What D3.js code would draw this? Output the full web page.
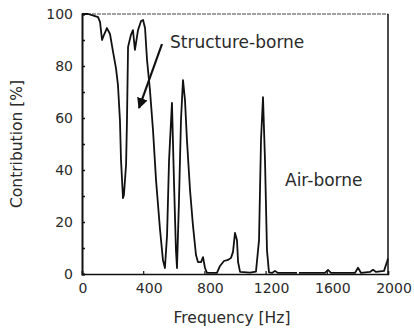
<!DOCTYPE html>
<html><head><meta charset="utf-8">
<script src="https://cdn.jsdelivr.net/npm/d3@7"></script>
<style>html,body{margin:0;padding:0;background:#fff;}svg{display:block;}</style>
</head><body>
<svg id="c" width="414" height="328"></svg>
<script>
const freq = [0,39,65,85,105,118,131,144,163,183,203,222,235,248,255,268,274,288,294,301,320,333,346,366,386,399,412,425,444,464,484,510,529,542,556,569,588,601,614,621,634,647,660,673,686,706,725,745,758,778,791,804,817,882,902,928,954,974,987,1000,1013,1020,1033,1098,1137,1157,1170,1183,1196,1209,1222,1242,1261,1281,1405,1411,1418,1588,1608,1627,1784,1804,1824,1882,1902,1922,1974,1993,2000];
const contribution = [100,100,99.6,99.2,98.8,96.9,90,92,94.6,92.3,85.4,79.2,72.7,59.2,43.8,29.2,30.4,42,59,87.3,92,93.8,86.2,93.8,97.3,97.7,94.6,82.3,70.8,55.4,36,17,5.4,2.3,15,43.8,65.8,36,9.2,2.3,28.5,59.2,74.6,67,51.5,32.3,18.8,7.3,4.6,4.6,6.5,2.3,0.4,0.4,3.1,5,5.4,6.2,8.5,15.8,13,4.6,0.8,0.5,0.9,13,51.5,68,43.8,9.2,0.6,0.4,1.2,0.4,0.4,null,0.4,0.4,1.6,0.4,0.4,2.4,0.4,0.8,1.6,0.8,1.2,4.6,6];
const xTicks = [0,400,800,1200,1600,2000];
const yTicks = [0,20,40,60,80,100];
const yMinor = [10,30,50,70,90];
const labels = ["Structure-borne", "Air-borne"];

const svg = d3.select("#c");
const x = d3.scaleLinear().domain([0,2000]).range([82,388]);
const y = d3.scaleLinear().domain([0,100]).range([274,14]);
const font = "DejaVu Sans, sans-serif";
const ink = "#2a2a2a";

// frame: top and right
svg.append("line").attr("x1",x(0)).attr("x2",x(2000)).attr("y1",y(100)).attr("y2",y(100))
  .attr("stroke","#444").attr("stroke-width",1.2).attr("stroke-dasharray","4,1");
svg.append("line").attr("x1",x(2000)).attr("x2",x(2000)).attr("y1",y(100)).attr("y2",y(0))
  .attr("stroke","#111").attr("stroke-width",1.5);

// y axis
const ya = svg.append("g").attr("transform",`translate(${x(0)},0)`)
  .call(d3.axisRight(y).tickValues(yTicks.concat(yMinor)).tickSize(3).tickFormat(""));
ya.select(".domain").attr("stroke","#111").attr("stroke-width",2);
ya.selectAll(".tick line").attr("stroke","#111").attr("stroke-width",1.5);
svg.append("g").selectAll("text").data(yTicks).join("text")
  .attr("x",73).attr("y",d=>y(d)).attr("dy","0.35em").attr("text-anchor","end")
  .attr("font-family",font).attr("font-size",14).attr("fill",ink).text(d=>d);

// x axis
const xa = svg.append("g").attr("transform",`translate(0,${y(0)})`)
  .call(d3.axisTop(x).tickValues(xTicks).tickSize(3).tickFormat(""));
xa.select(".domain").attr("stroke","#111").attr("stroke-width",1.6);
xa.selectAll(".tick line").attr("stroke","#111").attr("stroke-width",1.2);
svg.append("g").selectAll("text").data(xTicks).join("text")
  .attr("x",d=>x(d)+(d===0?1:6)).attr("y",288).attr("dy","0.35em").attr("text-anchor","middle")
  .attr("font-family",font).attr("font-size",14).attr("fill",ink).text(d=>d);

// axis titles
svg.append("text").attr("x",232).attr("y",318).attr("dy","0.35em").attr("text-anchor","middle")
  .attr("font-family",font).attr("font-size",15.5).attr("fill",ink).text("Frequency [Hz]");
svg.append("text").attr("transform","translate(17,144) rotate(-90)").attr("dy","0.35em").attr("text-anchor","middle")
  .attr("font-family",font).attr("font-size",15.5).attr("fill",ink).text("Contribution [%]");

// data line
const line = d3.line().defined((d,i)=>contribution[i]!==null)
  .x((d,i)=>x(freq[i])).y((d,i)=>y(contribution[i]));
svg.append("path").datum(freq).attr("d",line).attr("fill","none")
  .attr("stroke","#111").attr("stroke-width",1.8).attr("stroke-linejoin","round");

// annotations
svg.append("text").attr("x",170).attr("y",48).attr("font-family",font).attr("font-size",17)
  .attr("fill",ink).text(labels[0]);
svg.append("text").attr("x",285).attr("y",186).attr("font-family",font).attr("font-size",17)
  .attr("fill",ink).text(labels[1]);

// arrow
const defs = svg.append("defs");
defs.append("marker").attr("id","ah").attr("viewBox","0 0 10 10").attr("refX",9).attr("refY",5)
  .attr("markerWidth",5).attr("markerHeight",5).attr("orient","auto")
  .append("path").attr("d","M0,0L10,5L0,10z").attr("fill","#111");
svg.append("line").attr("x1",162).attr("y1",44).attr("x2",139).attr("y2",108)
  .attr("stroke","#111").attr("stroke-width",2.2).attr("marker-end","url(#ah)");
</script>
</body></html>
